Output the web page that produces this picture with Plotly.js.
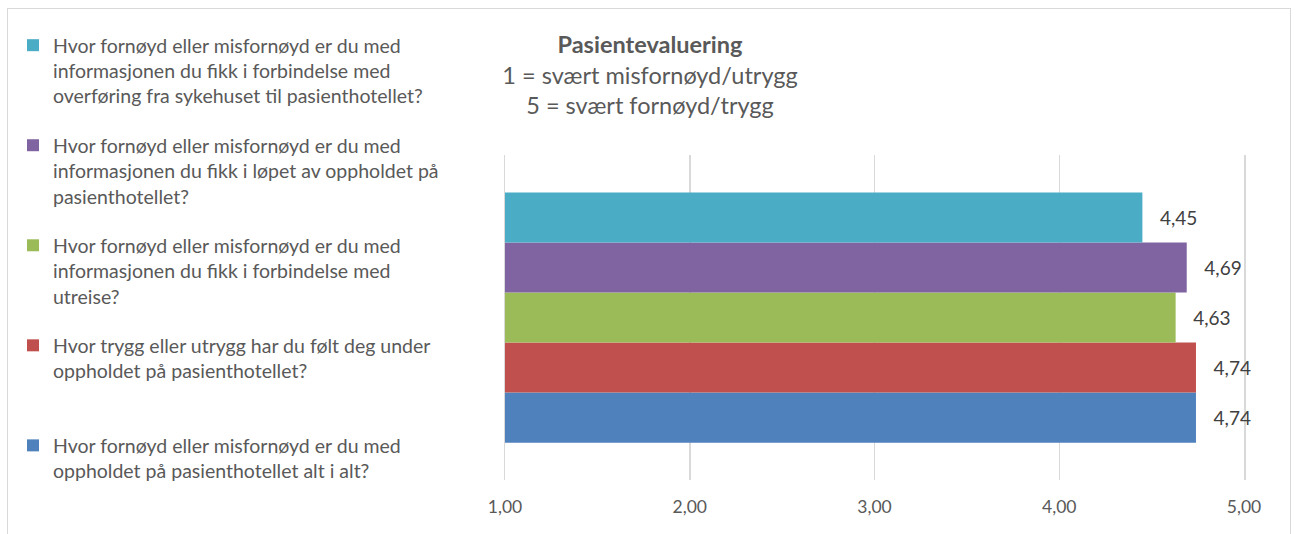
<!DOCTYPE html>
<html>
<head>
<meta charset="utf-8">
<script src="https://cdn.plot.ly/plotly-3.0.1.min.js"></script>
<style>
  html, body { margin: 0; padding: 0; background: #ffffff; overflow: hidden; }
  #wrap { position: relative; width: 1298px; height: 534px; }
  #frame { position: absolute; left: 7px; top: 8px; width: 1284px; height: 560px;
           border: 1.5px solid #d9d9d9; box-sizing: border-box; pointer-events: none; z-index: 2; }
  #chart { position: absolute; left: 0; top: 0; width: 1298px; height: 534px; }
</style>
</head>
<body>
<div id="wrap">
  <div id="chart"></div>
  <div id="frame"></div>
</div>
<script>
// ---- data (bottom bar first) ----
const category = ['Pasientevaluering'];
const seriesNames = [
  'Hvor fornøyd eller misfornøyd er du med<br>oppholdet på pasienthotellet alt i alt?',
  'Hvor trygg eller utrygg har du følt deg under<br>oppholdet på pasienthotellet?<br>\u00a0',
  'Hvor fornøyd eller misfornøyd er du med<br>informasjonen du fikk i forbindelse med<br>utreise?',
  'Hvor fornøyd eller misfornøyd er du med<br>informasjonen du fikk i løpet av oppholdet på<br>pasienthotellet?',
  'Hvor fornøyd eller misfornøyd er du med<br>informasjonen du fikk i forbindelse med<br>overføring fra sykehuset til pasienthotellet?'
];
const seriesValues = [4.74, 4.74, 4.63, 4.69, 4.45];
const legendRanks = [5, 4, 3, 2, 1];
const xTickValues = [1, 2, 3, 4, 5];
const xTickLabels = ['1,00', '2,00', '3,00', '4,00', '5,00'];

const colors = ['#4F81BD', '#C0504D', '#9BBB59', '#8064A2', '#4BACC6'];
const FONT = 'Lato, "Open Sans", sans-serif';

const traces = seriesNames.map((name, i) => ({
  type: 'bar',
  orientation: 'h',
  name: name,
  legendgroup: 'g' + i,
  legendrank: legendRanks[i],
  y: category,
  x: [seriesValues[i]],
  base: 0,
  marker: { color: colors[i], line: { width: 0 } },
  texttemplate: '\u00a0\u00a0\u00a0%{x:.2f}',
  textposition: 'outside',
  cliponaxis: false,
  textfont: { family: FONT, size: 19, color: '#404040' },
  hoverinfo: 'x+name'
}));

const layout = {
  width: 1298,
  height: 534,
  paper_bgcolor: '#ffffff',
  plot_bgcolor: '#ffffff',
  separators: ',.',
  font: { family: FONT, size: 17, color: '#595959' },
  margin: { l: 505, r: 54, t: 155, b: 54, pad: 0 },
  barmode: 'group',
  bargap: 0.23,
  bargroupgap: 0,
  title: {
    text: '<b>Pasientevaluering</b><br>1 = svært misfornøyd/utrygg<br>5 = svært fornøyd/trygg',
    font: { family: FONT, size: 23.5, color: '#595959' },
    xref: 'container', yref: 'container',
    x: 650 / 1298, xanchor: 'center',
    y: 1 - 53 / 534, yanchor: 'top'
  },
  xaxis: {
    range: [1, 5],
    tickvals: xTickValues,
    ticktext: xTickLabels,
    showgrid: true,
    gridcolor: '#d9d9d9',
    gridwidth: 1.5,
    zeroline: false,
    showline: false,
    ticks: '',
    ticklabelstandoff: 14,
    tickfont: { family: FONT, size: 17.5, color: '#595959' },
    layer: 'below traces',
    fixedrange: true
  },
  yaxis: {
    showticklabels: false,
    showgrid: false,
    zeroline: false,
    showline: true,
    mirror: true,
    linecolor: '#d9d9d9',
    linewidth: 1.5,
    layer: 'below traces',
    ticks: '',
    fixedrange: true
  },
  showlegend: true,
  legend: {
    xref: 'container', yref: 'container',
    x: 13 / 1298, xanchor: 'left',
    y: 1 - 26 / 534, yanchor: 'top',
    traceorder: 'grouped',
    tracegroupgap: 21,
    valign: 'top',
    maxheight: 530,
    bgcolor: 'rgba(0,0,0,0)',
    font: { family: FONT, size: 19.5, color: '#595959' },
    itemclick: false, itemdoubleclick: false
  }
};

Plotly.newPlot('chart', traces, layout, { displayModeBar: false, staticPlot: true });
</script>
</body>
</html>
